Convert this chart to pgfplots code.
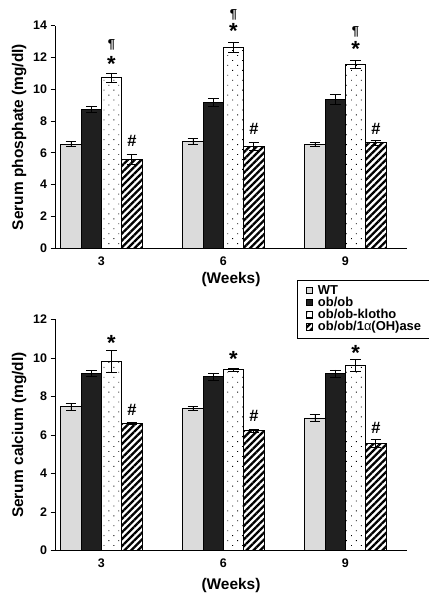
\documentclass[border=0pt]{standalone}
\usepackage{fontspec}
\setmainfont{Liberation Sans}
\usepackage{pgfplots}
\pgfplotsset{compat=1.18}
\usetikzlibrary{patterns.meta}

\tikzset{
  star/.style={font=\bfseries\fontsize{22}{22}\selectfont, inner sep=0pt, anchor=north},
  para/.style={font=\bfseries\fontsize{13}{13}\selectfont, inner sep=0pt, anchor=north},
  hash/.style={font=\bfseries\fontsize{16.5}{16.5}\selectfont, inner sep=0pt, anchor=north},
}
\pgfplotsset{
  myaxis/.style={
    scale only axis, width=352bp,
    xmin=-0.38, xmax=2.505,
    axis x line=bottom, axis y line=left,
    axis line style={-, line width=0.9bp, black},
    ybar=0pt, bar width=20.3bp,
    xtick={0,1,2}, xticklabels={3,6,9},
    x tick style={draw=none},
    y tick style={line width=0.9bp, black},
    tick align=outside, major tick length=4.5bp,
    ticklabel style={font=\bfseries\fontsize{12.5}{12.5}\selectfont},
    /pgf/number format/assume math mode=true,
    label style={font=\bfseries\fontsize{15.5}{15.5}\selectfont},
    xlabel={(Weeks)},
    clip=false,
    error bars/y dir=both, error bars/y explicit,
    error bars/error bar style={line width=0.8bp, black},
    error bars/error mark options={rotate=90, mark size=5.3bp, line width=0.8bp, black},
    legend image code/.code={\draw[#1, line width=0.6bp] (0bp,-2.5bp) rectangle (6.5bp,4bp);},
  },
  wt/.style={draw=black, line width=0.8bp, fill=black!14},
  ob/.style={draw=black, line width=0.8bp, fill=black!88},
  kl/.style={draw=black, line width=0.8bp, preaction={fill=white}, pattern={Dots[angle=45,distance=7bp,radius=0.6bp]}, pattern color=black},
  ase/.style={draw=black, line width=0.8bp, preaction={fill=white}, pattern={Lines[angle=45,distance=4.8bp,line width=2.3bp]}, pattern color=black},
}

\begin{document}
\begin{tikzpicture}[x=1bp,y=1bp]
\useasboundingbox (0,0) rectangle (428,600);

% ---------- Top: serum phosphate ----------
\begin{axis}[myaxis,
  at={(55bp,351.7bp)}, anchor=south west,
  height=222.6bp, ymin=0, ymax=14, ytick={0,2,...,14},
  ylabel={Serum phosphate (mg/dl)},
  legend style={at={(axis description cs:0.6875,-0.1424)}, anchor=north west,
    draw=black, line width=0.7bp, font=\bfseries\fontsize{13}{13}\selectfont,
    inner xsep=8.5bp, inner ysep=4.5bp, row sep=0bp, column sep=3bp,
    nodes={inner xsep=2bp, inner ysep=0bp, text height=9.2bp, text depth=3bp}},
  legend cell align=left,
]
\addplot[wt] coordinates {(0,6.55) +- (0,0.15) (1,6.7) +- (0,0.19) (2,6.52) +- (0,0.12)};
\addplot[ob] coordinates {(0,8.74) +- (0,0.2) (1,9.16) +- (0,0.25) (2,9.35) +- (0,0.32)};
\addplot[kl] coordinates {(0,10.72) +- (0,0.27) (1,12.63) +- (0,0.32) (2,11.59) +- (0,0.25)};
\addplot[ase] coordinates {(0,5.6) +- (0,0.33) (1,6.39) +- (0,0.25) (2,6.63) +- (0,0.17)};
\addlegendentry{WT}
\addlegendentry{ob/ob}
\addlegendentry{ob/ob-klotho}
\addlegendentry{ob/ob/1{\mdseries α}(OH)ase}
\node[star] at (axis cs:0.083,12.05) {*};
\node[para] at (axis cs:0.083,13.15) {¶};
\node[star] at (axis cs:1.083,14.15) {*};
\node[para] at (axis cs:1.083,15.03) {¶};
\node[star] at (axis cs:2.083,13.0) {*};
\node[para] at (axis cs:2.083,13.94) {¶};
\node[hash] at (axis cs:0.25,7.13) {\#};
\node[hash] at (axis cs:1.25,7.86) {\#};
\node[hash] at (axis cs:2.25,7.9) {\#};
\end{axis}

% ---------- Bottom: serum calcium ----------
\begin{axis}[myaxis,
  at={(55bp,49.3bp)}, anchor=south west,
  height=231.2bp, ymin=0, ymax=12, ytick={0,2,...,12},
  ylabel={Serum calcium (mg/dl)},
  xlabel style={yshift=-4bp},
]
\addplot[wt] coordinates {(0,7.47) +- (0,0.2) (1,7.4) +- (0,0.1) (2,6.89) +- (0,0.2)};
\addplot[ob] coordinates {(0,9.2) +- (0,0.14) (1,9.03) +- (0,0.17) (2,9.2) +- (0,0.18)};
\addplot[kl] coordinates {(0,9.81) +- (0,0.57) (1,9.39) +- (0,0.09) (2,9.62) +- (0,0.31)};
\addplot[ase] coordinates {(0,6.61) +- (0,0.07) (1,6.23) +- (0,0.07) (2,5.57) +- (0,0.19)};
\node[star] at (axis cs:0.083,11.19) {*};
\node[star] at (axis cs:1.083,10.36) {*};
\node[star] at (axis cs:2.083,10.67) {*};
\node[hash] at (axis cs:0.25,7.61) {\#};
\node[hash] at (axis cs:1.25,7.30) {\#};
\node[hash] at (axis cs:2.25,6.66) {\#};
\end{axis}
\end{tikzpicture}
\end{document}
